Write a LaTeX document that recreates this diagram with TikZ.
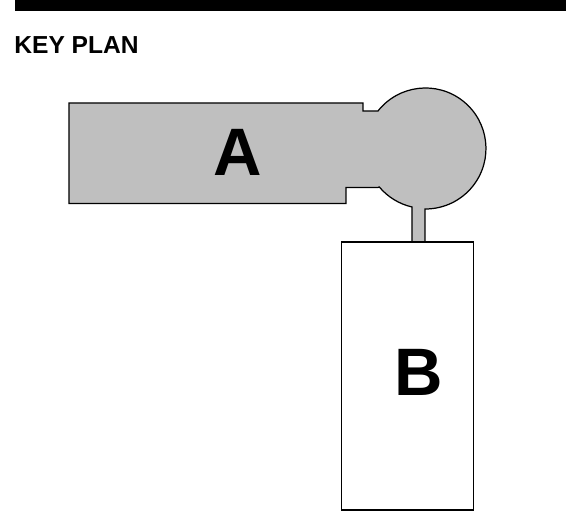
\documentclass[tikz,border=0pt]{standalone}
\usepackage{fontspec}
\setmainfont{Liberation Sans}
\tikzset{
    zone/.style={draw=black, line width=0.7pt, line join=miter},
    letter/.style={font=\bfseries\fontsize{38.2}{42}\selectfont, inner sep=0pt}
}
\begin{document}
\begin{tikzpicture}[x=0.02cm, y=-0.02cm]
    \useasboundingbox (0,0) rectangle (566,519);

    % balk bovenaan
    \fill[black] (15,0) rectangle (566,11);
    \node[anchor=base west, inner sep=0pt, font=\bfseries\fontsize{14}{16}\selectfont] (title) at (14,54) {KEY PLAN};

    % zone A met ronde kop en steel
    \draw[zone, fill=black!25] (69,103) -- (363,103) -- (363,111) -- (378,111)
        arc[start angle=218.3, end angle=450.5, radius=60.5]
        -- (425,243) -- (412,243) -- (412,207)
        arc[start angle=103, end angle=140, radius=60.5]
        -- (378,187.5) -- (346,187.5) -- (346,203.5) -- (69,203.5) -- cycle;

    % zone B
    \draw[zone, fill=white] (341.5,242) rectangle (473.5,510);

    \node[letter] (labelA) at (238,152) {A};
    \node[letter] (labelB) at (418.5,372.5) {B};
\end{tikzpicture}
\end{document}
